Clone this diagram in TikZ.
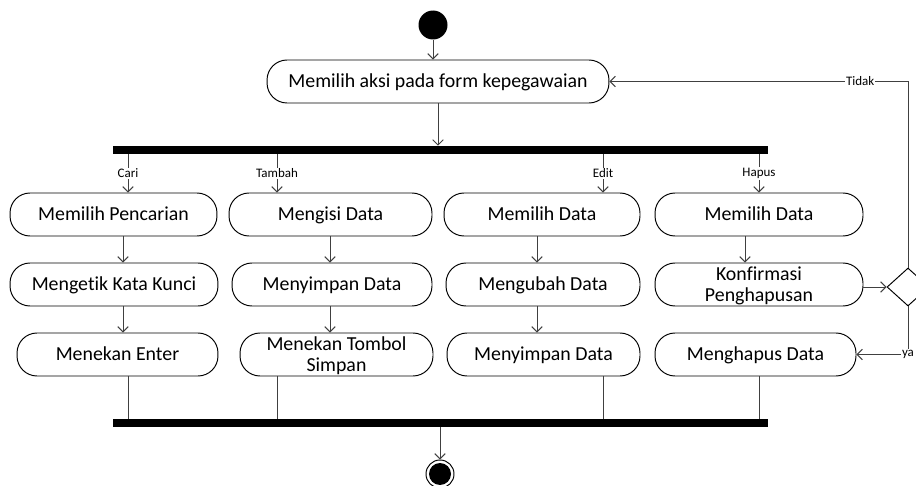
\documentclass[tikz,border=0pt]{standalone}
\usepackage{fontspec}
\setmainfont{Carlito}[Ligatures=NoCommon]
\usetikzlibrary{arrows.meta,shapes.geometric}

\tikzset{
  act/.style={draw=black, line width=0.55pt, rounded corners=0.4cm, minimum height=0.86cm,
    inner sep=1pt, align=center, text height=7.2pt, text depth=0pt,
    font=\fontsize{11.3}{12}\selectfont},
  twoline/.style={text height=19.2pt, text depth=0pt},
  flow/.style={draw=black!75, line width=0.55pt, -{Straight Barb[length=3pt,width=6pt]}},
  link/.style={draw=black!75, line width=0.55pt},
  bar/.style={fill=black, minimum height=0.16cm, minimum width=13.1cm, inner sep=0},
  guard/.style={fill=white, inner sep=0.6pt, font=\fontsize{7.4}{8}\selectfont},
}

\begin{document}
\begin{tikzpicture}[x=0.02cm, y=-0.02cm]
  \useasboundingbox (0,0) rectangle (916,486);

  \node[circle, fill=black, minimum size=0.58cm, inner sep=0] (start) at (433,25) {};
  \node[act, minimum width=6.84cm] (aksi) at (438,81.5) {Memilih aksi pada form kepegawaian};
  \node[bar] (fork) at (440.5,150) {};

  \node[act, minimum width=4.14cm] (cari1) at (113.5,214.5) {Memilih Pencarian};
  \node[act, minimum width=4.06cm] (tambah1) at (330.5,214.5) {Mengisi Data};
  \node[act, minimum width=3.92cm] (edit1) at (542,214.5) {Memilih Data};
  \node[act, minimum width=4.16cm] (hapus1) at (759,214.5) {Memilih Data};

  \node[act, minimum width=4.16cm] (cari2) at (114,284.5) {Mengetik Kata Kunci};
  \node[act, minimum width=4.0cm] (tambah2) at (332,284.5) {Menyimpan Data};
  \node[act, minimum width=3.88cm] (edit2) at (543,284.5) {Mengubah Data};
  \node[act, twoline, minimum width=4.16cm] (hapus2) at (759,284.5) {Konfirmasi\\Penghapusan};

  \node[act, minimum width=4.02cm] (cari3) at (117.5,354.5) {Menekan Enter};
  \node[act, twoline, minimum width=3.86cm] (tambah3) at (336.5,354.5) {Menekan Tombol\\Simpan};
  \node[act, minimum width=3.86cm] (edit3) at (543.5,354.5) {Menyimpan Data};
  \node[act, minimum width=4.02cm] (hapus3) at (755.5,354.5) {Menghapus Data};

  \node[diamond, draw=black, line width=0.55pt, minimum width=0.84cm, minimum height=0.76cm,
    inner sep=0] (dec) at (908,287) {};

  \node[bar] (join) at (440.5,423) {};
  \node[circle, draw=black, line width=0.55pt, minimum size=0.56cm, inner sep=0] (stop) at (440,474) {};
  \fill (stop) circle [radius=0.22cm];

  \draw[flow] (start) -- (start |- aksi.north);
  \draw[flow] (aksi.south) -- (aksi.south |- fork.north);

  \foreach \col/\x/\lab in {cari/128/Cari, tambah/277/Tambah, edit/603/Edit, hapus/759/Hapus}{
    \coordinate (b\col) at (\x,0);
    \draw[flow] (fork.south -| b\col) -- node[guard] {\lab} (\col1.north -| b\col);
    \draw[link] (\col3.south -| b\col) -- (join.north -| b\col);
  }

  \foreach \col/\x in {cari/123, tambah/330, edit/537}{
    \coordinate (a\col) at (\x,0);
    \draw[flow] (\col1.south -| a\col) -- (\col2.north -| a\col);
    \draw[flow] (\col2.south -| a\col) -- (\col3.north -| a\col);
  }
  \coordinate (ahapus) at (745,0);
  \draw[flow] (hapus1.south -| ahapus) -- (hapus2.north -| ahapus);

  \draw[flow] (dec.west -| hapus2.east) -- (dec.west);
  \draw[flow] (dec.north) |- node[guard, pos=0.58] {Tidak} (aksi.east);
  \draw[flow] (dec.south) |- node[guard] {ya} (hapus3.east);

  \draw[flow] (join.south -| stop) -- (stop.north);
\end{tikzpicture}
\end{document}
